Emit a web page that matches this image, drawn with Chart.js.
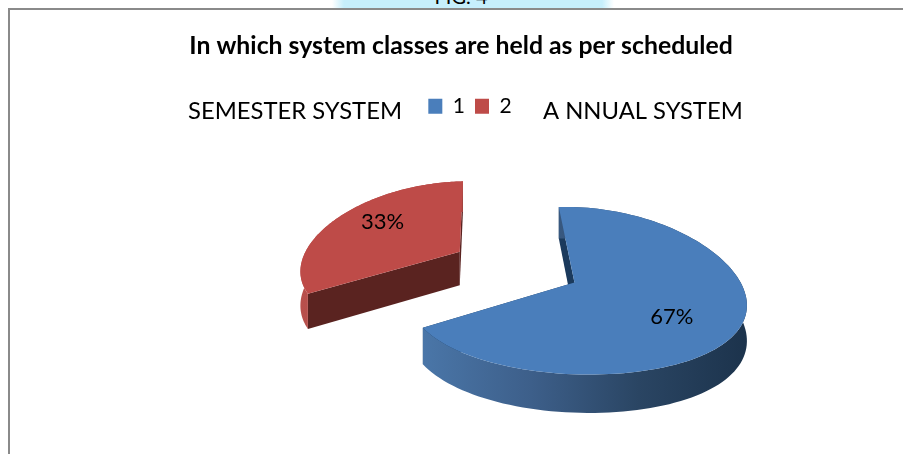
<!DOCTYPE html>
<html>
<head>
<meta charset="utf-8">
<style>
  html, body { margin: 0; padding: 0; background: #fff; overflow: hidden; }
  #page { position: relative; width: 903px; height: 454px; overflow: hidden; }
  #tab { position: absolute; left: 332px; top: 0; width: 282px; height: 9px; background: linear-gradient(to right, rgba(198,239,252,0), #c6effc 12px, #c6effc 270px, rgba(198,239,252,0)); overflow: hidden; }
  #tab span { position: absolute; left: 0; width: 258px; top: -15px; text-align: center; font: 20px/22px Lato, sans-serif; color: #000; }
  #box { position: absolute; left: 8px; top: 8px; width: 906px; height: 460px; border: 2px solid #8a8a8a; border-right: 0; border-bottom: 0; box-sizing: border-box; }
  canvas { position: absolute; left: 8px; top: 8px; }
</style>
</head>
<body>
<div id="page">
  <div id="tab"><span>FIG. 4</span></div>
  <div id="box"></div>
  <canvas id="piechart" width="906" height="446"></canvas>
</div>
<script src="https://cdn.jsdelivr.net/npm/chart.js@4"></script>
<script>
const categories = ['1', '2']
const shares = [67, 33]
const sliceNames = ['A NNUAL SYSTEM', 'SEMESTER SYSTEM']
const chartTitle = 'In which system classes are held as per scheduled'

const tilt = 0.5         // vertical squash of the pie disc
const perspX = 0.0012    // near side of the disc gets wider
const perspY = 0.0006
const depth = 34
const pieShift = {x: 54, y: -23}   // pie sits right of the chart area centre
const labelReach = [0.65, 0.69]
const labelTurn = [10, 7]

// disc point (relative to the pie centre) to canvas point
function project(arc, X, Y) {
    const w = 1 / (1 - perspY * Y)
    return {
        x: arc.x + pieShift.x + X / (1 - perspX * Y),
        y: arc.y + pieShift.y + tilt * Y * w,
        w: w
    }
}

function slicePoints(arc) {
    const mid = (arc.startAngle + arc.endAngle) / 2
    const ox = Math.cos(mid) * arc.options.offset
    const oy = Math.sin(mid) * arc.options.offset
    const rim = []
    for (let i = 0; i <= 120; i++) {
        const a = arc.startAngle + (arc.endAngle - arc.startAngle) * i / 120
        rim.push(project(arc, ox + Math.cos(a) * arc.outerRadius, oy + Math.sin(a) * arc.outerRadius))
    }
    return {ox: ox, oy: oy, mid: mid, rim: rim, apex: project(arc, ox, oy)}
}

function fillPoly(ctx, pts, fill) {
    ctx.beginPath()
    pts.forEach((p, i) => i ? ctx.lineTo(p.x, p.y) : ctx.moveTo(p.x, p.y))
    ctx.closePath()
    ctx.fillStyle = fill
    ctx.fill()
}

const down = p => ({x: p.x, y: p.y + depth * p.w})

const pie3d = {
    id: 'pie3d',
    beforeDraw(chart) {
        // legend block sits a little right of the title in the original
        const leg = chart.legend
        leg.left = (chart.width - leg.width) / 2 + 9
        leg.right = leg.left + leg.width
        leg.top += 1
        leg.bottom += 1
    },
    beforeDatasetsDraw(chart) {
        const ctx = chart.ctx
        const arcs = chart.getDatasetMeta(0).data
        const ds = chart.data.datasets[0]
        arcs.forEach((arc, i) => {
            const s = slicePoints(arc)
            const first = s.rim[0]
            const last = s.rim[s.rim.length - 1]
            const xs = s.rim.map(p => p.x)
            const grad = ctx.createLinearGradient(Math.min(...xs), 0, Math.max(...xs), 0)
            ds.wallStops[i].forEach((c, j, all) => grad.addColorStop(j / (all.length - 1), c))
            // cut walls, then the outer wall, then the top face over them
            fillPoly(ctx, [s.apex, first, down(first), down(s.apex)], ds.cutColor[i])
            fillPoly(ctx, [s.apex, last, down(last), down(s.apex)], ds.cutColor[i])
            fillPoly(ctx, s.rim.concat(s.rim.map(down).reverse()), grad)
            fillPoly(ctx, [s.apex].concat(s.rim), ds.backgroundColor[i])
        })
        return false
    },
    afterDraw(chart) {
        const ctx = chart.ctx
        const arcs = chart.getDatasetMeta(0).data
        const values = chart.data.datasets[0].data
        const total = values.reduce((a, b) => a + b, 0)
        ctx.save()
        ctx.fillStyle = '#000'
        ctx.textAlign = 'center'
        ctx.textBaseline = 'middle'
        ctx.font = '22px Lato'
        arcs.forEach((arc, i) => {
            const s = slicePoints(arc)
            const r = arc.outerRadius * labelReach[i]
            const a = s.mid + labelTurn[i] * Math.PI / 180
            const p = project(arc, s.ox + Math.cos(a) * r, s.oy + Math.sin(a) * r)
            ctx.fillText(Math.round(values[i] / total * 100) + '%', p.x, p.y)
        })
        // the two names sit either side of the legend
        const leg = chart.legend
        const midX = (leg.left + leg.right) / 2
        const midY = (leg.top + leg.bottom) / 2
        ctx.font = '23.8px Lato'
        ctx.textAlign = 'right'
        ctx.fillText(sliceNames[1], midX - 68, midY + 5)
        ctx.textAlign = 'left'
        ctx.fillText(sliceNames[0], midX + 73, midY + 5)
        ctx.restore()
    }
}

new Chart(document.getElementById('piechart'), {
    type: 'pie',
    data: {
        labels: categories,
        datasets: [{
            data: shares,
            backgroundColor: ['#4a7ebb', '#be4b48'],
            cutColor: ['#1b3a5c', '#5a2320'],
            wallStops: [['#4a76a8', '#3d5f8a', '#2a4563', '#1c334c'], ['#b8504c', '#a84541']],
            borderWidth: 0,
            offset: 65,
            radius: 160
        }]
    },
    options: {
        responsive: false,
        animation: false,
        rotation: -2.4,
        plugins: {
            tooltip: {enabled: false},
            title: {
                display: true,
                text: chartTitle,
                color: '#000',
                font: {family: 'Lato', size: 24.8, weight: 'bold'},
                padding: {top: 23, bottom: 24}
            },
            legend: {
                position: 'top',
                labels: {
                    color: '#000',
                    font: {family: 'Lato', size: 21},
                    boxWidth: 14,
                    boxHeight: 15,
                    padding: 10
                }
            }
        }
    },
    plugins: [pie3d]
})
</script>
</body>
</html>
